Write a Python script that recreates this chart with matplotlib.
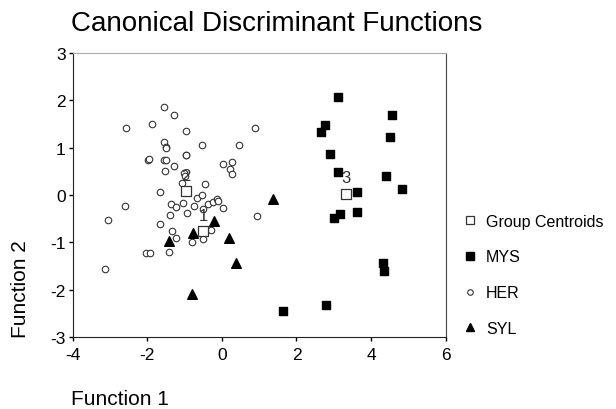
import matplotlib
matplotlib.use('Agg')
import matplotlib.pyplot as plt
from matplotlib.lines import Line2D

plt.rcParams['font.family'] = ['Liberation Sans', 'DejaVu Sans']
plt.rcParams['axes.unicode_minus'] = False

# Group MYS (filled squares)
mys_x = [3.12, 4.57, 2.76, 2.65, 4.50, 2.90, 3.12, 4.41, 4.84, 3.62,
         3.17, 3.00, 3.63, 4.33, 4.35, 2.78, 1.63]
mys_y = [2.06, 1.69, 1.47, 1.33, 1.22, 0.86, 0.48, 0.41, 0.12, 0.07,
         -0.40, -0.48, -0.35, -1.44, -1.60, -2.32, -2.45]

# Group HER (open circles)
her_x = [-1.54, -1.28, -2.56, -1.88, -0.97, 0.90, -1.55, -1.49, -1.51, -0.53,
         0.46, -1.98, -1.96, -1.55, -1.49, -0.97, -0.96, -1.28, -1.53, 0.03,
         0.26, 0.22, 0.26, -1.02, -1.08, -0.44, -1.65, -2.61, -3.05, -1.37,
         -1.22, -1.03, -0.94, -1.39, -0.74, -0.68, -0.52, -0.50, -0.38, -0.24,
         -0.12, -0.10, 0.04, 0.95, -1.67, -1.33, -1.23, -0.29, -0.50, -0.79,
         -2.04, -1.92, -1.43, -3.13, -1.00]
her_y = [1.85, 1.68, 1.42, 1.50, 1.35, 1.42, 1.12, 1.02, 0.99, 1.06,
         1.06, 0.75, 0.76, 0.75, 0.75, 0.84, 0.85, 0.61, 0.50, 0.65,
         0.70, 0.56, 0.44, 0.46, 0.26, 0.23, 0.07, -0.24, -0.53, -0.18,
         -0.25, -0.17, -0.37, -0.43, -0.23, -0.07, 0.00, -0.29, -0.19, -0.15,
         -0.09, -0.13, -0.28, -0.44, -0.62, -0.76, -0.90, -0.73, -0.93, -1.00,
         -1.22, -1.22, -1.21, -1.56, 0.40]

# Group SYL (filled triangles)
syl_x = [1.38, -0.20, -0.78, -1.43, 0.18, 0.38, -0.81]
syl_y = [-0.08, -0.55, -0.81, -0.96, -0.90, -1.44, -2.09]

# Group centroids and their labels
cen_x = [-0.50, -0.97, 3.33]
cen_y = [-0.76, 0.08, 0.03]
cen_labels = ['1', '2', '3']

fig = plt.figure(figsize=(6.16, 4.10), dpi=100)
ax = fig.add_axes([0.118, 0.175, 0.6055, 0.6935])

ax.scatter(mys_x, mys_y, marker='s', s=34, c='black', zorder=3)
ax.scatter(her_x, her_y, marker='o', s=22, facecolors='white',
           edgecolors='#333333', linewidths=0.8, zorder=3)
ax.scatter(syl_x, syl_y, marker='^', s=48, c='black', zorder=3)
ax.scatter(cen_x, cen_y, marker='s', s=45, facecolors='white',
           edgecolors='#333333', linewidths=0.9, zorder=4)
for cx, cy, lab in zip(cen_x, cen_y, cen_labels):
    ax.annotate(lab, (cx, cy), xytext=(0, 11.5), textcoords='offset points',
                ha='center', va='center', fontsize=12, color='#333333', zorder=5)

ax.set_xlim(-4, 6)
ax.set_ylim(-3, 3)
ax.set_xticks([-4, -2, 0, 2, 4, 6])
ax.set_yticks([-3, -2, -1, 0, 1, 2, 3])
ax.tick_params(direction='out', length=3, width=1, labelsize=12.5)
ax.tick_params(axis='x', pad=4)
ax.tick_params(axis='y', pad=2)

ax.spines['left'].set_color('#222222')
ax.spines['bottom'].set_color('#222222')
ax.spines['top'].set_color('#aaaaaa')
ax.spines['right'].set_color('#444444')

fig.text(0.115, 0.925, 'Canonical Discriminant Functions', fontsize=20,
         ha='left', va='baseline')
fig.text(0.115, 0.012, 'Function 1', fontsize=15, ha='left', va='baseline')
fig.text(0.033, 0.175, 'Function 2', fontsize=15, rotation=90,
         ha='center', va='bottom')

handles = [
    Line2D([], [], marker='s', ls='none', markersize=6, markerfacecolor='white',
           markeredgecolor='#333333', markeredgewidth=0.9),
    Line2D([], [], marker='s', ls='none', markersize=6, color='black'),
    Line2D([], [], marker='o', ls='none', markersize=4, markerfacecolor='white',
           markeredgecolor='#333333', markeredgewidth=0.8),
    Line2D([], [], marker='^', ls='none', markersize=6, color='black'),
]
labels = ['Group Centroids', 'MYS', 'HER', 'SYL']
fig.legend(handles, labels, loc='upper left', bbox_to_anchor=(0.74, 0.492),
           frameon=False, fontsize=11.5, handlelength=1.0, handletextpad=0.5,
           labelspacing=1.3, borderaxespad=0)

fig.savefig('out.png', dpi=100)
